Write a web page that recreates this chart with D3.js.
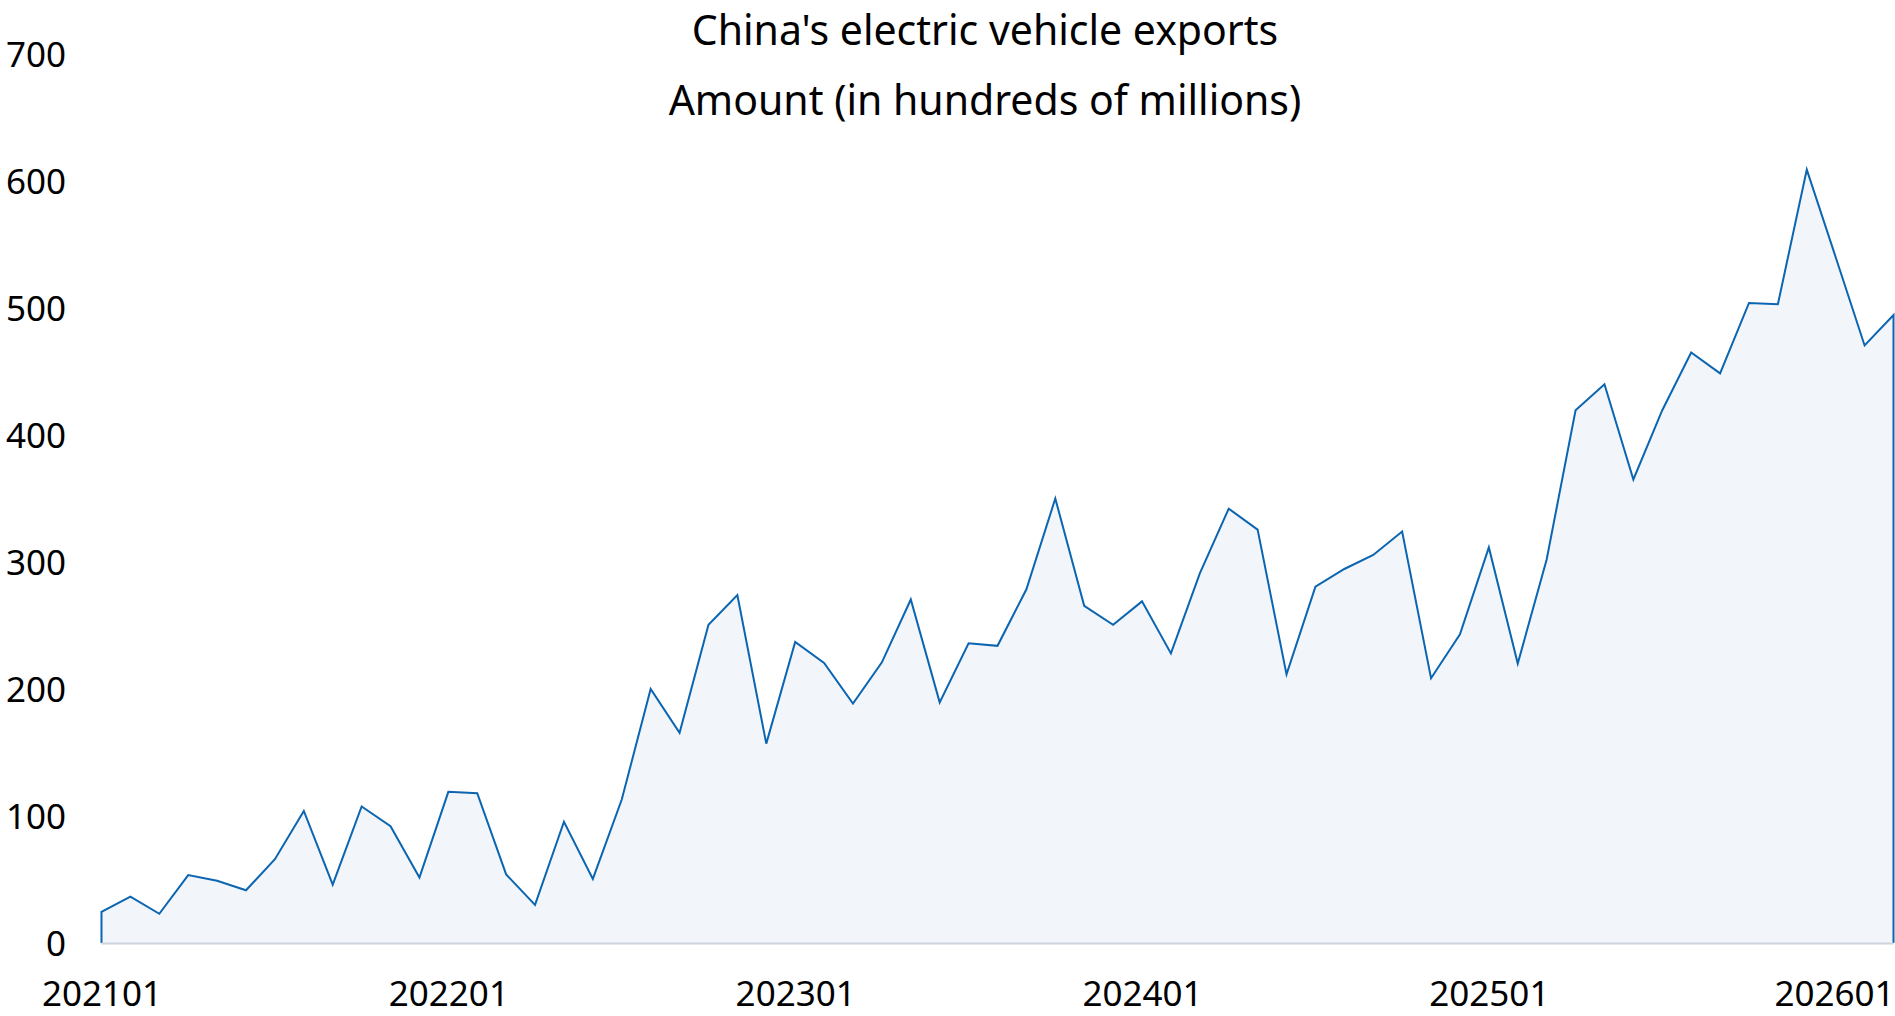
<!DOCTYPE html>
<html>
<head>
<meta charset="utf-8">
<script src="https://cdn.jsdelivr.net/npm/d3@7"></script>
<style>
  html, body { margin: 0; padding: 0; background: #ffffff; }
  svg { display: block; }
  text { font-family: "Noto Sans", "Open Sans", sans-serif; fill: #000; }
</style>
</head>
<body>
<svg id="chart" width="1895" height="1016"></svg>
<script>
// Monthly categories (YYYYMM)
const months = [
  "202101","202102","202103","202104","202105","202106","202107","202108","202109","202110","202111","202112",
  "202201","202202","202203","202204","202205","202206","202207","202208","202209","202210","202211","202212",
  "202301","202302","202303","202304","202305","202306","202307","202308","202309","202310","202311","202312",
  "202401","202402","202403","202404","202405","202406","202407","202408","202409","202410","202411","202412",
  "202501","202502","202503","202504","202505","202506","202507","202508","202509","202510","202511","202512",
  "202601","202602","202603"
];

// Export amount, hundreds of millions
const amounts = [
  24.5, 36.5, 23, 53.5, 49, 41.5, 66, 104, 46, 107.5, 92, 51.5,
  119, 118, 54, 30, 95.5, 50.5, 113, 200, 165.5, 250.5, 274, 157,
  237, 220.5, 188.5, 221, 270.5, 189.5, 236, 234, 278.5, 350, 265.5, 250.5,
  269, 228, 291, 342, 325.5, 211.5, 280.5, 294.5, 305.5, 324, 208.5, 243,
  311.5, 220, 302, 419.5, 440, 365, 419.5, 465, 448.5, 504, 503, 609,
  540, 470.5, 494.5
];

const yTicks = [0, 100, 200, 300, 400, 500, 600, 700];
const xTickLabels = ["202101", "202201", "202301", "202401", "202501", "202601"];
const titleLines = ["China's electric vehicle exports", "Amount (in hundreds of millions)"];

const svg = d3.select("#chart");

const x = d3.scalePoint().domain(months).range([101.5, 1893.5]);
const y = d3.scaleLinear().domain([0, 700]).range([943, 54]);

const data = months.map((m, i) => ({ m, v: amounts[i] }));

// Area fill under the series
const area = d3.area()
  .x(d => x(d.m))
  .y0(y(0))
  .y1(d => y(d.v));

svg.append("path")
  .datum(data)
  .attr("d", area)
  .attr("fill", "#f2f6fb");

// Outline: up the left edge, along the series, down the right edge
const outline = [{ m: months[0], v: 0 }, ...data, { m: months[months.length - 1], v: 0 }];
const line = d3.line()
  .x(d => x(d.m))
  .y(d => y(d.v));

svg.append("path")
  .datum(outline)
  .attr("d", line)
  .attr("fill", "none")
  .attr("stroke", "#0b65b0")
  .attr("stroke-width", 2)
  .attr("stroke-linejoin", "miter");

// Baseline
svg.append("line")
  .attr("x1", x(months[0]))
  .attr("x2", x(months[months.length - 1]))
  .attr("y1", y(0) + 0.5)
  .attr("y2", y(0) + 0.5)
  .attr("stroke", "#ccd3dc")
  .attr("stroke-width", 2);

// Y axis labels (no axis line or ticks)
const yAxis = d3.axisLeft(y).tickValues(yTicks).tickSize(0).tickPadding(0);
const gy = svg.append("g").attr("transform", "translate(66,0)").call(yAxis);
gy.select(".domain").remove();
gy.selectAll("text")
  .attr("font-family", "Noto Sans, Open Sans, sans-serif")
  .attr("font-size", 35)
  .attr("fill", "#000")
  .attr("dy", "0.35em");

// X axis labels every January
const xAxis = d3.axisBottom(x).tickValues(xTickLabels).tickSize(0).tickPadding(0);
const gx = svg.append("g").attr("transform", "translate(0,994)").call(xAxis);
gx.select(".domain").remove();
gx.selectAll("text")
  .attr("font-family", "Noto Sans, Open Sans, sans-serif")
  .attr("font-size", 35)
  .attr("fill", "#000")
  .attr("dy", "0.35em");
gx.selectAll("text").filter(d => d === "202601").attr("text-anchor", "end").attr("x", 1894 - x("202601"));

// Title
svg.selectAll("text.title")
  .data(titleLines)
  .join("text")
  .attr("class", "title")
  .attr("x", 985)
  .attr("y", (d, i) => 31 + i * 70)
  .attr("dy", "0.35em")
  .attr("text-anchor", "middle")
  .attr("font-size", 41)
  .text(d => d);
</script>
</body>
</html>
